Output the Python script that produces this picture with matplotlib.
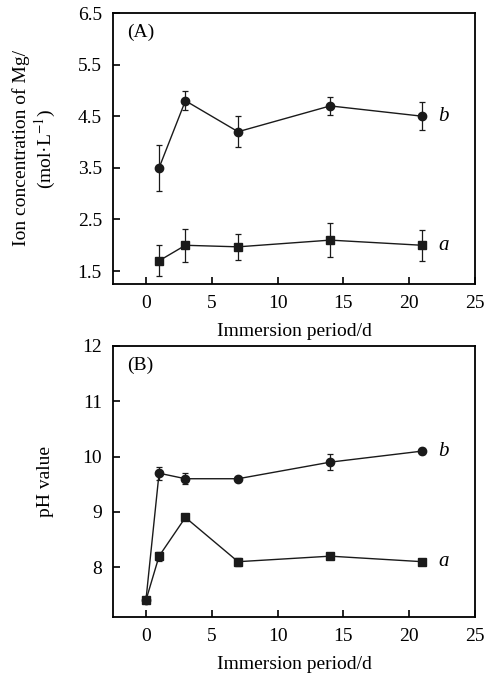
import matplotlib
matplotlib.use("Agg")
import matplotlib.pyplot as plt

plt.rcParams['font.family'] = ['Liberation Serif', 'DejaVu Serif']
plt.rcParams['mathtext.fontset'] = 'stix'

# Panel A: Mg ion concentration
days_A = [1, 3, 7, 14, 21]
mg_b = [3.5, 4.8, 4.2, 4.7, 4.5]
mg_b_err = [0.45, 0.18, 0.3, 0.17, 0.27]
mg_a = [1.7, 2.0, 1.97, 2.1, 2.0]
mg_a_err = [0.3, 0.32, 0.25, 0.33, 0.3]

# Panel B: pH
days_B = [0, 1, 3, 7, 14, 21]
ph_b = [7.4, 9.7, 9.6, 9.6, 9.9, 10.1]
ph_b_err = [0.0, 0.12, 0.1, 0.04, 0.15, 0.05]
ph_a = [7.4, 8.2, 8.9, 8.1, 8.2, 8.1]
ph_a_err = [0.0, 0.08, 0.03, 0.07, 0.04, 0.03]

xticks = [0, 5, 10, 15, 20, 25]
yticks_A = [1.5, 2.5, 3.5, 4.5, 5.5, 6.5]
yticks_B = [8, 9, 10, 11, 12]

fig = plt.figure(figsize=(4.85, 6.73), dpi=100)
W, H = 485, 673
axA = fig.add_axes([113 / W, 1 - 284 / H, 362 / W, 271 / H])
axB = fig.add_axes([113 / W, 1 - 617 / H, 362 / W, 271 / H])

fs = 14
line_kw = dict(color='#1a1a1a', lw=1.0, elinewidth=0.9, capsize=2.2, capthick=0.9)

axA.errorbar(days_A, mg_b, yerr=mg_b_err, marker='o', ms=6, **line_kw)
axA.errorbar(days_A, mg_a, yerr=mg_a_err, marker='s', ms=5.5, **line_kw)
axB.errorbar(days_B, ph_b, yerr=ph_b_err, marker='o', ms=6, **line_kw)
axB.errorbar(days_B, ph_a, yerr=ph_a_err, marker='s', ms=5.5, **line_kw)

for ax in (axA, axB):
    ax.set_xlim(-2.5, 25)
    ax.set_xticks(xticks)
    ax.tick_params(direction='in', length=5, width=1.2, labelsize=fs, pad=8,
                   top=False, right=False)
    for sp in ax.spines.values():
        sp.set_linewidth(1.3)
    ax.set_xlabel('Immersion period/d', fontsize=fs, labelpad=8)

axA.set_ylim(1.25, 6.5)
axA.set_yticks(yticks_A)
axA.set_yticklabels([f'{v:.1f}' for v in yticks_A])
axA.set_ylabel('Ion concentration of Mg/\n(mol·L$^{-1}$)', fontsize=fs, labelpad=14,
               linespacing=1.15)
axA.text(0.04, 0.96, '(A)', transform=axA.transAxes, fontsize=fs, va='top', ha='left')
axA.text(22.6, mg_b[-1], 'b', fontsize=fs + 1, style='italic', va='center', ha='center')
axA.text(22.6, mg_a[-1], 'a', fontsize=fs + 1, style='italic', va='center', ha='center')

axB.set_ylim(7.1, 12)
axB.set_yticks(yticks_B)
axB.set_ylabel('pH value', fontsize=fs, labelpad=20)
axB.text(0.04, 0.96, '(B)', transform=axB.transAxes, fontsize=fs, va='top', ha='left')
axB.text(22.6, ph_b[-1], 'b', fontsize=fs + 1, style='italic', va='center', ha='center')
axB.text(22.6, ph_a[-1], 'a', fontsize=fs + 1, style='italic', va='center', ha='center')

fig.savefig('out.png', dpi=100)
